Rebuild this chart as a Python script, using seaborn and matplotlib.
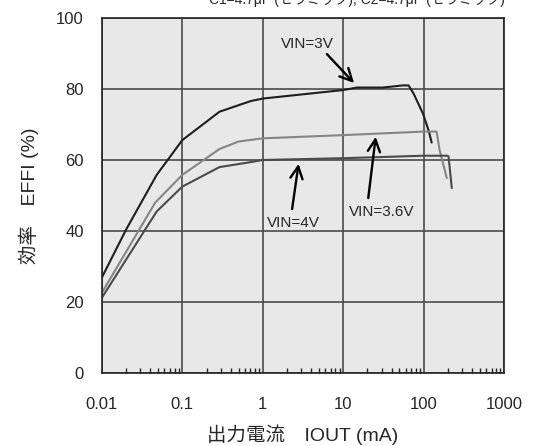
import numpy as np
import pandas as pd
import seaborn as sns
import matplotlib.pyplot as plt
from matplotlib.ticker import FixedLocator, NullFormatter, LogLocator

# efficiency curves
iout_3v = [0.01, 0.02, 0.048, 0.1, 0.29, 0.71, 1, 10, 14.8, 31, 55, 65, 75, 98, 115, 126]
eff_3v = [26.9, 40.4, 55.8, 65.6, 73.6, 76.6, 77.3, 79.7, 80.4, 80.4, 81.0, 81.0, 78.7, 73.1, 68.4, 64.9]

iout_36v = [0.01, 0.046, 0.1, 0.29, 0.5, 1, 10, 100, 145, 158, 194]
eff_36v = [22.6, 48.0, 55.8, 63.1, 65.2, 66.1, 67.0, 68.0, 68.0, 62.8, 54.9]

iout_4v = [0.01, 0.048, 0.1, 0.29, 0.71, 1, 10, 100, 196, 204, 224]
eff_4v = [21.2, 45.5, 52.5, 58.0, 59.4, 60.0, 60.5, 61.2, 61.2, 61.0, 52.1]

x_ticks = [0.01, 0.1, 1, 10, 100, 1000]
x_labels = ["0.01", "0.1", "1", "10", "100", "1000"]
y_ticks = [0, 20, 40, 60, 80, 100]

df = pd.concat([
    pd.DataFrame({"iout": iout_3v, "eff": eff_3v, "vin": "3V"}),
    pd.DataFrame({"iout": iout_36v, "eff": eff_36v, "vin": "3.6V"}),
    pd.DataFrame({"iout": iout_4v, "eff": eff_4v, "vin": "4V"}),
])

sns.set_theme(style="white")
plt.rcParams['font.family'] = ['Liberation Sans', 'Noto Sans CJK JP']

fig = plt.figure(figsize=(5.42, 4.46), dpi=100)
ax = fig.add_axes([0.188, 0.1637, 0.742, 0.796])
ax.set_facecolor("#e8e8e8")

colors = {"3V": "#1e1e1e", "3.6V": "#858585", "4V": "#4a4a4a"}
sns.lineplot(data=df, x="iout", y="eff", hue="vin", palette=colors,
             estimator=None, linewidth=1.5, legend=False, ax=ax)

ax.set_xscale("log")
ax.set_xlim(0.01, 1000)
ax.set_ylim(0, 100)
ax.xaxis.set_major_locator(FixedLocator(x_ticks))
ax.set_xticklabels(x_labels, fontsize=12)
ax.xaxis.set_minor_locator(LogLocator(base=10, subs=np.arange(2, 10)))
ax.xaxis.set_minor_formatter(NullFormatter())
ax.set_yticks(y_ticks)
ax.set_yticklabels([str(v) for v in y_ticks], fontsize=12)
ax.tick_params(axis="x", which="major", length=0, pad=17)
ax.tick_params(axis="y", which="major", length=0, pad=13)
ax.tick_params(axis="x", which="minor", direction="in", length=3.5, width=1, color="#222222", bottom=True)
ax.grid(True, which="major", color="#4a4a4a", linewidth=1.2)
for s in ax.spines.values():
    s.set_color("#222222")
    s.set_linewidth(1.2)

ax.set_xlabel("出力電流　IOUT (mA)", fontsize=14, labelpad=9)
ax.set_ylabel("効率　EFFI (%)", fontsize=14, labelpad=12)

arrow = dict(arrowstyle="->", color="black", lw=1.7, mutation_scale=22)
ax.text(3.55, 92.7, "VIN=3V", fontsize=11, ha="center", va="center")
ax.annotate("", xy=(14.4, 81.1), xytext=(5.94, 90.4), arrowprops=arrow)
ax.text(30.4, 45.4, "VIN=3.6V", fontsize=11, ha="center", va="center")
ax.annotate("", xy=(25.6, 67.3), xytext=(20.3, 48.5), arrowprops=arrow)
ax.text(2.41, 42.3, "VIN=4V", fontsize=11, ha="center", va="center")
ax.annotate("", xy=(2.82, 59.7), xytext=(2.29, 45.4), arrowprops=arrow)

fig.text(0.932, 1 - 4 / 446, "C1=4.7μF (セラミック), C2=4.7μF (セラミック)",
         fontsize=10, ha="right", va="baseline")

fig.savefig("out.png", dpi=100)
